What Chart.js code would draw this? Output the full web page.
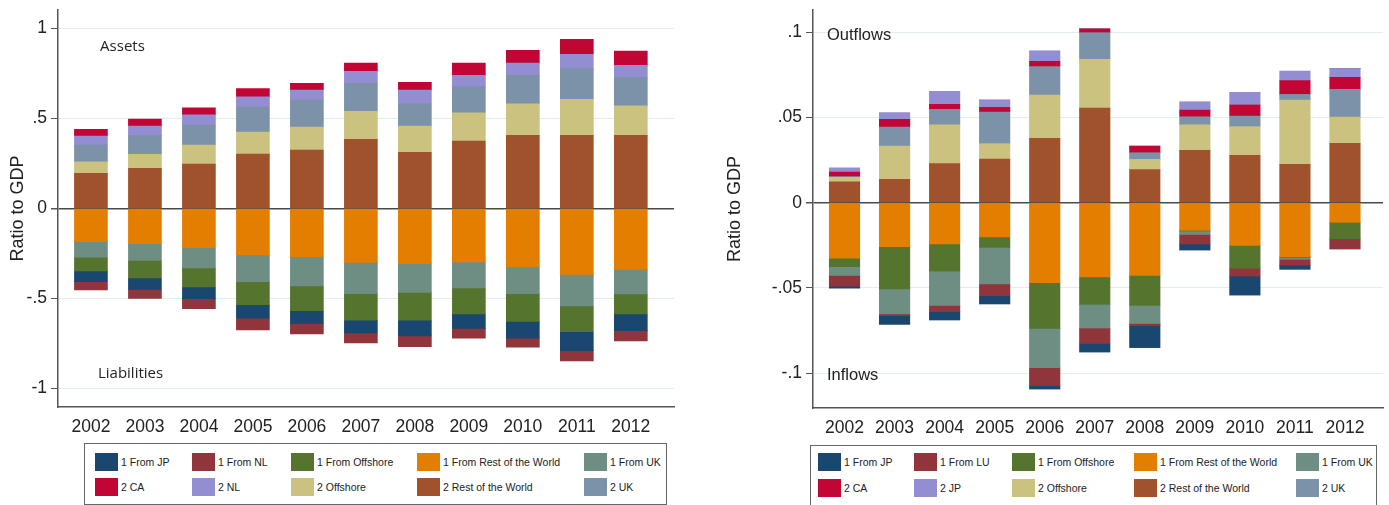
<!DOCTYPE html>
<html>
<head>
<meta charset="utf-8">
<script src="https://cdn.jsdelivr.net/npm/chart.js@4.4.1/dist/chart.umd.min.js"></script>
<style>
  body { margin: 0; width: 1389px; height: 505px; background: #fff; position: relative; overflow: hidden;
         font-family: "Liberation Sans", Arial, sans-serif; }
  .chart { position: absolute; top: 0; }
  .legend { position: absolute; border: 1px solid #666; box-sizing: border-box; }
  .item { position: absolute; display: flex; align-items: center; font-size: 10.5px; color: #222; white-space: nowrap; }
  .item .sw { width: 23px; height: 18px; margin-right: 3px; }
</style>
</head>
<body>
<canvas id="stocks" class="chart" width="690" height="440" style="left:0"></canvas>
<canvas id="flows" class="chart" width="694" height="440" style="left:695px"></canvas>
<div id="legendStocks" class="legend" style="left:84px;top:443px;width:583px;height:62px"></div>
<div id="legendFlows" class="legend" style="left:810px;top:445px;width:567px;height:64px"></div>

<script>
const years = [2002, 2003, 2004, 2005, 2006, 2007, 2008, 2009, 2010, 2011, 2012];

// left panel: stocks (assets +, liabilities -)
const stockTicks = [-1, -0.5, 0, 0.5, 1];
const stockTickLabels = ['-1', '-.5', '0', '.5', '1'];
const assetsRoW      = [0.194, 0.222, 0.246, 0.302, 0.324, 0.383, 0.311, 0.374, 0.406, 0.406, 0.406];
const assetsOffshore = [0.065, 0.078, 0.106, 0.122, 0.128, 0.156, 0.146, 0.156, 0.174, 0.200, 0.163];
const assetsUK       = [0.093, 0.104, 0.111, 0.139, 0.150, 0.155, 0.124, 0.146, 0.159, 0.170, 0.157];
const assetsNL       = [0.050, 0.053, 0.056, 0.057, 0.055, 0.067, 0.076, 0.063, 0.068, 0.080, 0.068];
const assetsCA       = [0.037, 0.039, 0.040, 0.045, 0.037, 0.046, 0.043, 0.068, 0.071, 0.083, 0.080];
const liabRoW        = [-0.185, -0.196, -0.219, -0.259, -0.269, -0.300, -0.307, -0.298, -0.326, -0.367, -0.339];
const liabUK         = [-0.087, -0.093, -0.112, -0.148, -0.162, -0.174, -0.160, -0.145, -0.148, -0.176, -0.137];
const liabOffshore   = [-0.076, -0.098, -0.106, -0.128, -0.138, -0.148, -0.155, -0.144, -0.154, -0.142, -0.111];
const liabJP         = [-0.059, -0.063, -0.065, -0.076, -0.070, -0.071, -0.087, -0.080, -0.094, -0.106, -0.093];
const liabNL         = [-0.047, -0.050, -0.055, -0.065, -0.059, -0.055, -0.060, -0.055, -0.050, -0.057, -0.057];

// right panel: flows (outflows +, inflows -)
const flowTicks = [-0.1, -0.05, 0, 0.05, 0.1];
const flowTickLabels = ['-.1', '-.05', '0', '.05', '.1'];
const outRoW      = [0.0123, 0.0137, 0.0229, 0.0256, 0.0377, 0.0555, 0.0194, 0.0307, 0.0278, 0.0225, 0.0348];
const outOffshore = [0.0026, 0.0195, 0.0227, 0.0090, 0.0254, 0.0286, 0.0060, 0.0150, 0.0168, 0.0377, 0.0154];
const outUK       = [0.0004, 0.0112, 0.0091, 0.0186, 0.0167, 0.0156, 0.0039, 0.0047, 0.0062, 0.0033, 0.0163];
const outCA       = [0.0027, 0.0045, 0.0030, 0.0027, 0.0031, 0.0022, 0.0039, 0.0039, 0.0065, 0.0081, 0.0070];
const outJP       = [0.0025, 0.0039, 0.0076, 0.0045, 0.0062, 0.0003, 0.0000, 0.0049, 0.0074, 0.0056, 0.0051];
const inRoW       = [-0.0326, -0.0258, -0.0242, -0.0201, -0.0469, -0.0436, -0.0426, -0.0162, -0.0250, -0.0317, -0.0115];
const inOffshore  = [-0.0049, -0.0248, -0.0159, -0.0061, -0.0268, -0.0160, -0.0176, -0.0004, -0.0135, -0.0004, -0.0096];
const inUK        = [-0.0051, -0.0147, -0.0201, -0.0215, -0.0231, -0.0139, -0.0106, -0.0020, 0.0000, -0.0011, 0.0000];
const inLU        = [-0.0063, -0.0010, -0.0037, -0.0068, -0.0105, -0.0090, -0.0013, -0.0056, -0.0045, -0.0034, -0.0061];
const inJP        = [-0.0013, -0.0051, -0.0049, -0.0049, -0.0020, -0.0051, -0.0129, -0.0036, -0.0112, -0.0025, 0.0000];

// stata s2color
const colors = {
  navy: '#1a476f', maroon: '#90353b', green: '#55752f', orange: '#e37e00', teal: '#6e8e84',
  cranberry: '#c10534', lavender: '#938dd2', khaki: '#cac27e', sienna: '#a0522d', blue: '#7b92a8'
};

const font = '"Liberation Sans", Arial, sans-serif';

function ds(label, values, color) {
  return {
    label: label,
    data: years.map((yr, i) => ({ x: yr, y: values[i] })),
    backgroundColor: color,
    borderWidth: 0
  };
}

// order = stacking order from zero outwards
const stockSets = [
  ds('2 Rest of the World', assetsRoW, colors.sienna),
  ds('2 Offshore', assetsOffshore, colors.khaki),
  ds('2 UK', assetsUK, colors.blue),
  ds('2 NL', assetsNL, colors.lavender),
  ds('2 CA', assetsCA, colors.cranberry),
  ds('1 From Rest of the World', liabRoW, colors.orange),
  ds('1 From UK', liabUK, colors.teal),
  ds('1 From Offshore', liabOffshore, colors.green),
  ds('1 From JP', liabJP, colors.navy),
  ds('1 From NL', liabNL, colors.maroon)
];
const flowSets = [
  ds('2 Rest of the World', outRoW, colors.sienna),
  ds('2 Offshore', outOffshore, colors.khaki),
  ds('2 UK', outUK, colors.blue),
  ds('2 CA', outCA, colors.cranberry),
  ds('2 JP', outJP, colors.lavender),
  ds('1 From Rest of the World', inRoW, colors.orange),
  ds('1 From Offshore', inOffshore, colors.green),
  ds('1 From UK', inUK, colors.teal),
  ds('1 From LU', inLU, colors.maroon),
  ds('1 From JP', inJP, colors.navy)
];

const panelText = {
  id: 'panelText',
  afterDatasetsDraw(chart, args, opts) {
    const { ctx, scales: { x, y } } = chart;
    ctx.save();
    ctx.font = opts.font;
    ctx.fillStyle = '#222';
    ctx.textBaseline = 'middle';
    opts.items.forEach(t => ctx.fillText(t.text, x.getPixelForValue(t.x), y.getPixelForValue(t.y)));
    ctx.restore();
  }
};

function makeChart(id, datasets, cfg) {
  return new Chart(document.getElementById(id), {
    type: 'bar',
    data: { datasets: datasets },
    options: {
      responsive: false,
      animation: false,
      devicePixelRatio: 1,
      layout: { padding: cfg.padding },
      datasets: { bar: { barThickness: cfg.barWidth } },
      plugins: {
        legend: { display: false },
        tooltip: { enabled: false },
        panelText: { items: cfg.notes, font: cfg.noteFont }
      },
      scales: {
        x: {
          type: 'linear',
          stacked: true,
          offset: false,
          min: cfg.xMin,
          max: cfg.xMax,
          afterBuildTicks: a => { a.ticks = years.map(v => ({ value: v })); },
          afterFit: a => { a.height = cfg.xHeight; },
          grid: { display: false, drawTicks: false, offset: false },
          border: { display: true, color: '#555', width: 1.5 },
          ticks: { padding: 10, color: '#222', autoSkip: false, maxRotation: 0,
                   font: { family: font, size: 17.5 }, callback: v => String(v) }
        },
        y: {
          stacked: true,
          min: cfg.yMin,
          max: cfg.yMax,
          afterBuildTicks: a => { a.ticks = cfg.ticks.map(v => ({ value: v })); },
          afterFit: a => { a.width = cfg.yWidth; a.paddingTop = 0; a.paddingBottom = 0; },
          grid: {
            color: c => (c.tick && c.tick.value === 0) ? '#4a4a4a' : '#e3edf0',
            lineWidth: c => (c.tick && c.tick.value === 0) ? 1.5 : 1,
            tickColor: '#555',
            tickLength: 7
          },
          border: { color: '#555', width: 1.5 },
          ticks: { padding: 4, color: '#222', font: { family: font, size: 17.5 },
                   callback: (v, i) => cfg.tickLabels[i] },
          title: { display: true, text: 'Ratio to GDP', color: '#222',
                   font: { family: font, size: 18 }, padding: { top: 7, bottom: 0 } }
        }
      }
    },
    plugins: [panelText]
  });
}

makeChart('stocks', stockSets, {
  padding: { top: 10, right: 16, left: 0, bottom: 0 },
  yWidth: 58, xHeight: 33, barWidth: 33, xMin: 2001.39, xMax: 2012.8,
  yMin: -1.104, yMax: 1.102, ticks: stockTicks, tickLabels: stockTickLabels,
  noteFont: '15px "Open Sans", sans-serif',
  notes: [{ text: 'Assets', x: 2002.17, y: 0.896 }, { text: 'Liabilities', x: 2002.13, y: -0.92 }]
});

makeChart('flows', flowSets, {
  padding: { top: 10, right: 6, left: 22, bottom: 0 },
  yWidth: 96, xHeight: 32, barWidth: 30.5, xMin: 2001.37, xMax: 2012.76,
  yMin: -0.1204, yMax: 0.113, ticks: flowTicks, tickLabels: flowTickLabels,
  noteFont: '16.5px "Liberation Sans", Arial, sans-serif',
  notes: [{ text: 'Outflows', x: 2001.65, y: 0.098 }, { text: 'Inflows', x: 2001.65, y: -0.1015 }]
});

// stata-style boxed legend, 5 columns x 2 rows
function buildLegend(elId, sets, order, cols, rows) {
  const box = document.getElementById(elId);
  order.forEach((label, k) => {
    const set = sets.find(s => s.label === label);
    const item = document.createElement('div');
    item.className = 'item';
    item.style.left = cols[k % 5] + 'px';
    item.style.top = rows[Math.floor(k / 5)] + 'px';
    item.innerHTML = '<span class="sw" style="background:' + set.backgroundColor + '"></span>' + label;
    box.appendChild(item);
  });
}

buildLegend('legendStocks', stockSets,
  ['1 From JP', '1 From NL', '1 From Offshore', '1 From Rest of the World', '1 From UK',
   '2 CA', '2 NL', '2 Offshore', '2 Rest of the World', '2 UK'],
  [10, 107, 206, 332, 499], [9, 34]);

buildLegend('legendFlows', flowSets,
  ['1 From JP', '1 From LU', '1 From Offshore', '1 From Rest of the World', '1 From UK',
   '2 CA', '2 JP', '2 Offshore', '2 Rest of the World', '2 UK'],
  [7, 103, 201, 323, 485], [7, 33]);
</script>
</body>
</html>
